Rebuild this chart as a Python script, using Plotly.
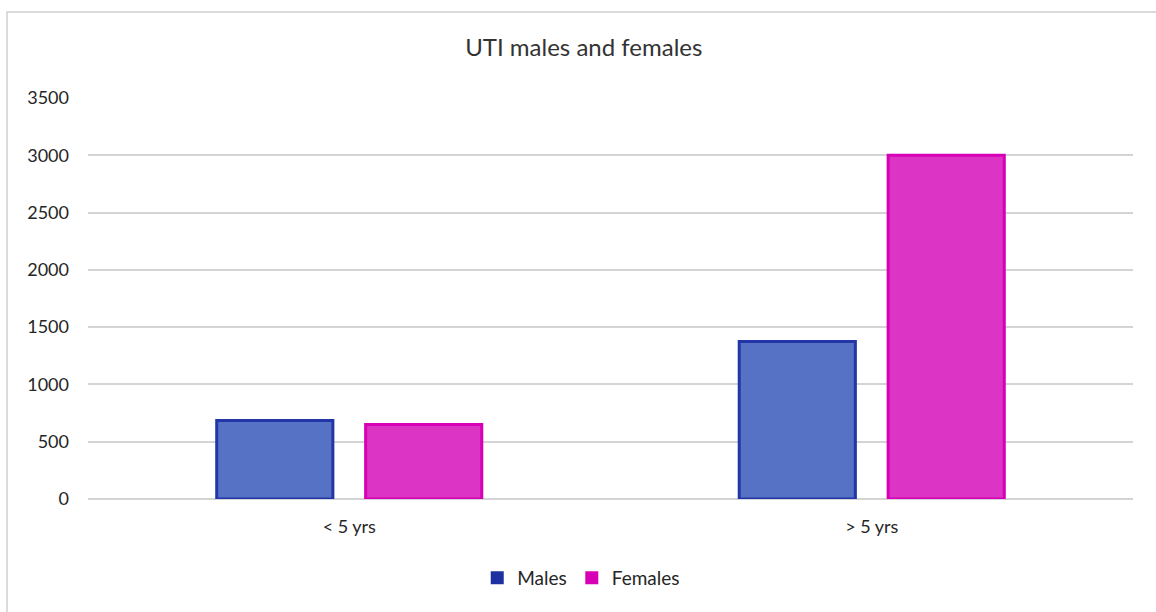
import plotly.graph_objects as go

categories = ["< 5 yrs", "> 5 yrs"]
males = [685, 1375]
females = [650, 3000]
y_ticks = [0, 500, 1000, 1500, 2000, 2500, 3000, 3500]

FONT = "Lato, Carlito, 'Open Sans', sans-serif"
MALE_FILL, MALE_EDGE = "#5572C4", "#2236A8"
FEMALE_FILL, FEMALE_EDGE = "#DC34C4", "#D800B6"

fig = go.Figure()
fig.add_trace(go.Bar(
    x=categories, y=males, name="Males", showlegend=False,
    marker=dict(color=MALE_FILL, line=dict(color=MALE_EDGE, width=3)),
))
fig.add_trace(go.Bar(
    x=categories, y=females, name="Females", showlegend=False,
    marker=dict(color=FEMALE_FILL, line=dict(color=FEMALE_EDGE, width=3)),
))

# legend entries: plain dark squares like the original
for name, col in [("Males", "#1F30A0"), ("Females", "#D800B4")]:
    fig.add_trace(go.Scatter(
        x=[None], y=[None], mode="markers", name=name,
        marker=dict(symbol="square", size=13, color=col),
    ))

# outer chart frame (only the left and top edges show in the picture)
fig.add_shape(
    type="rect", xref="paper", yref="paper",
    x0=-0.0775, x1=1.05, y0=-0.4, y1=1.2145,
    line=dict(color="#D0D0D0", width=1.5), fillcolor="rgba(0,0,0,0)",
    layer="below",
)

fig.update_layout(
    width=1156,
    height=612,
    margin=dict(l=88, r=23, t=98, b=113),
    paper_bgcolor="white",
    plot_bgcolor="white",
    barmode="group",
    bargap=0.43,
    bargroupgap=0.22,
    font=dict(family=FONT, size=18, color="#262626"),
    title=dict(
        text="UTI males and females",
        x=0.505, xanchor="center",
        y=1 - 48 / 612, yanchor="middle",
        font=dict(family=FONT, size=24, color="#333333"),
    ),
    xaxis=dict(
        showgrid=False,
        showline=False,
        ticks="",
        ticklabelstandoff=15,
        tickfont=dict(size=18),
    ),
    yaxis=dict(
        range=[0, 3500],
        tickvals=y_ticks,
        showgrid=True,
        gridcolor="#D4D4D4",
        gridwidth=1.5,
        zeroline=True,
        zerolinecolor="#D4D4D4",
        zerolinewidth=1.5,
        ticks="",
        ticklabelstandoff=18,
        tickfont=dict(size=18),
    ),
    legend=dict(
        orientation="h",
        x=0.472, xanchor="center",
        y=-0.197, yanchor="middle",
        font=dict(size=19),
        itemwidth=30,
        traceorder="normal",
    ),
)

# drop the browser's default body margin so the figure sits at 0,0
fig.write_html(
    "out.html",
    config={"displayModeBar": False},
    post_script="document.body.style.margin='0';document.body.style.overflow='hidden';",
)
